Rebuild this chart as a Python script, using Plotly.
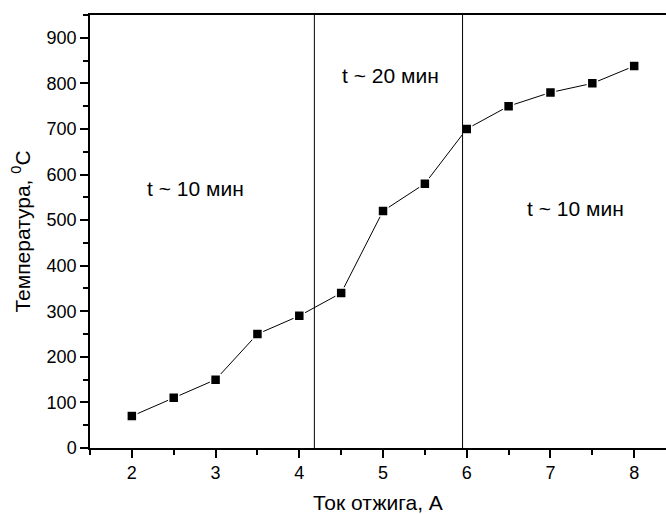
import plotly.graph_objects as go

current_A = [2, 2.5, 3, 3.5, 4, 4.5, 5, 5.5, 6, 6.5, 7, 7.5, 8]
temperature_C = [70, 110, 150, 250, 290, 340, 520, 580, 700, 750, 780, 800, 838]
boundaries = [4.18, 5.95]
region_labels = ["t ~ 10 мин", "t ~ 20 мин", "t ~ 10 мин"]
region_label_x = [2.76, 5.09, 7.30]
region_label_y = [570, 818, 526]

FONT = "Liberation Sans, Arial, sans-serif"

fig = go.Figure()
fig.add_trace(go.Scatter(
    x=current_A, y=temperature_C, mode="lines+markers",
    line=dict(color="black", width=1),
    marker=dict(symbol="square", size=10, color="black",
                line=dict(color="white", width=1.5)),
    showlegend=False, cliponaxis=False,
))

for b in boundaries:
    fig.add_shape(type="line", xref="x", yref="paper", x0=b, x1=b, y0=0, y1=1,
                  line=dict(color="black", width=1))

for t, x, y in zip(region_labels, region_label_x, region_label_y):
    fig.add_annotation(x=x, y=y, text=t, showarrow=False,
                       font=dict(size=21, color="black", family=FONT))

fig.update_layout(
    width=666, height=514,
    margin=dict(l=90, r=0, t=15, b=66),
    plot_bgcolor="white", paper_bgcolor="white",
    font=dict(family=FONT, color="black", size=18),
    xaxis=dict(
        range=[1.5, 8.38], tick0=2, dtick=1, ticks="outside", ticklen=8, tickwidth=1.5,
        tickcolor="black", showline=True, linecolor="black", linewidth=1.5,
        mirror=True, showgrid=False, zeroline=False,
        minor=dict(tick0=1.5, dtick=0.5, ticks="outside", ticklen=5, tickwidth=1.5, tickcolor="black"),
        title=dict(text="Ток отжига, А", font=dict(size=21), standoff=15),
        tickfont=dict(size=18),
    ),
    yaxis=dict(
        range=[0, 950], tick0=0, dtick=100, ticks="outside", ticklen=8, tickwidth=1.5,
        tickcolor="black", showline=True, linecolor="black", linewidth=1.5,
        showgrid=False, zeroline=False,
        minor=dict(tick0=0, dtick=50, ticks="outside", ticklen=5, tickwidth=1.5, tickcolor="black"),
        title=dict(text="Температура, <sup>0</sup>C", font=dict(size=21), standoff=10),
        tickfont=dict(size=18),
    ),
)

fig.write_html(
    "out.html",
    config={"displayModeBar": False},
    post_script="document.body.style.margin='0';document.body.style.overflow='hidden';",
)
